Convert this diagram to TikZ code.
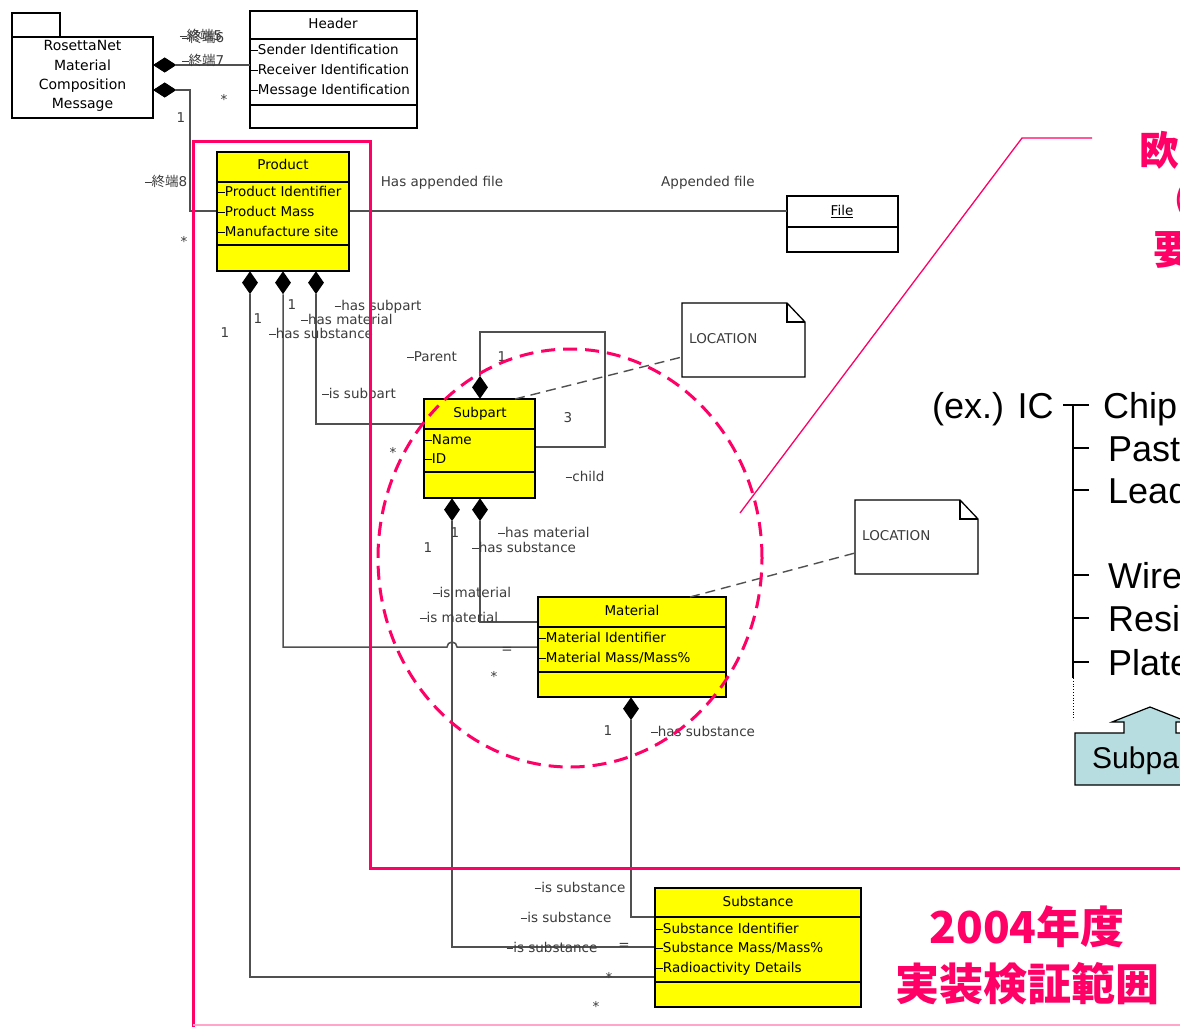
\documentclass[tikz,border=0pt]{standalone}
\usepackage{fontspec}
\usetikzlibrary{shapes.geometric}
\newfontfamily\umlf{DejaVu Sans}
\newfontfamily\arialf{Liberation Sans}
\newfontfamily\cjkf{Noto Sans CJK JP}
\definecolor{pinkc}{RGB}{255,0,102}
\definecolor{lineg}{RGB}{80,80,80}
\definecolor{labg}{RGB}{60,60,60}
\definecolor{ylw}{RGB}{255,255,0}
\definecolor{subbl}{RGB}{183,221,224}
\newcommand{\dsh}{\rule[0.32em]{0.5em}{0.6pt}}
\begin{document}
\begin{tikzpicture}[x=1pt,y=-1pt,
  cls/.style={draw=black, line width=1.4pt, fill=ylw, anchor=north west, inner sep=0pt, outer sep=0pt},
  wcls/.style={cls, fill=white},
  ut/.style={font=\umlf\fontsize{13.5}{15}\selectfont, inner sep=0pt, text height=9.8pt, text depth=0pt},
  rost/.style={ut, font=\umlf\fontsize{14}{16}\selectfont, text height=10pt},
  lab/.style={ut, text=labg},
  conn/.style={draw=lineg, line width=1.5pt},
  dconn/.style={draw=lineg, line width=1.4pt, dash pattern=on 10pt off 6pt},
  sep/.style={draw=black, line width=1.3pt},
  dia/.style={diamond, fill=black, inner sep=0pt, minimum width=16pt, minimum height=23pt, anchor=north},
  hdia/.style={diamond, fill=black, inner sep=0pt, minimum width=23pt, minimum height=15pt, anchor=west},
  pk/.style={draw=pinkc, line width=3pt},
  bigt/.style={font=\arialf\fontsize{36}{40}\selectfont, inner sep=0pt, anchor=base west},
  pkt/.style={font=\cjkf\bfseries\fontsize{44}{48}\selectfont, text=pinkc, inner sep=0pt},
  pkr/.style={font=\cjkf\bfseries\fontsize{40}{44}\selectfont, text=pinkc, inner sep=0pt, anchor=west},
  notet/.style={draw=black, line width=1.3pt},
]
\useasboundingbox (0,0) rectangle (1180,1026);
\clip (0,0) rectangle (1180,1026);
\fill[white] (0,0) rectangle (1180,1026);

% ---------- class boxes ----------
\draw[line width=1.3pt] (12,37) -- (12,13) -- (60,13) -- (60,37);
\node[wcls, minimum width=141pt, minimum height=81pt] (ros) at (12,37) {};
\node[wcls, minimum width=167pt, minimum height=117pt] (hdr) at (250,11) {};
\node[cls, minimum width=132pt, minimum height=119pt] (prod) at (217,152) {};
\node[wcls, minimum width=111pt, minimum height=56pt] (file) at (787,196) {};
\node[cls, minimum width=111pt, minimum height=99pt] (sub) at (424,399) {};
\node[cls, minimum width=188pt, minimum height=100pt] (mat) at (538,597) {};
\node[cls, minimum width=206pt, minimum height=119pt] (subs) at (655,888) {};

% ---------- diamonds ----------
\node[hdia] (rd1) at (153,65) {};
\node[hdia] (rd2) at (153,90) {};
\node[dia] (pd1) at (250,271) {};
\node[dia] (pd2) at (283,271) {};
\node[dia] (pd3) at (316,271) {};
\node[dia, anchor=south] (sd0) at (480,399) {};
\node[dia] (sd1) at (452,498) {};
\node[dia] (sd2) at (480,498) {};
\node[dia] (md) at (631,697) {};

% ---------- connectors ----------
\draw[conn] (rd1.east) -- (hdr.west |- rd1.east);
\draw[conn] (rd2.east) -- (190,90) -- (190,211) -- (prod.west |- 0,211);
\draw[conn] (prod.east |- 0,211) -- (file.west |- 0,211);
\draw[conn] (pd1.south) -- (250,977) -- (subs.west |- 0,977);
\draw[conn] (pd2.south) -- (283,647) -- (447,647) arc[start angle=180, end angle=0, radius=5pt] -- (mat.west |- 0,647);
\draw[conn] (pd3.south) -- (316,424) -- (sub.west |- 0,424);
\draw[conn] (sd0.north) -- (480,332) -- (605,332) -- (605,447) -- (sub.east |- 0,447);
\draw[conn] (sd1.south) -- (452,947) -- (subs.west |- 0,947);
\draw[conn] (sd2.south) -- (480,622) -- (mat.west |- 0,622);
\draw[conn] (md.south) -- (631,917) -- (subs.west |- 0,917);

% ---------- redraw class boxes on top ----------
\node[wcls, minimum width=141pt, minimum height=81pt] at (12,37) {};
\node[cls, minimum width=132pt, minimum height=119pt] at (217,152) {};
\node[cls, minimum width=111pt, minimum height=99pt] at (424,399) {};
\node[cls, minimum width=188pt, minimum height=100pt] at (538,597) {};
\node[cls, minimum width=206pt, minimum height=119pt] at (655,888) {};
\node[hdia] at (153,65) {};
\node[hdia] at (153,90) {};

% RosettaNet text
\node[rost] (r1) at (82.5,45) {RosettaNet};
\node[rost] (r2) at (82.5,65) {Material};
\node[rost] (r3) at (82.5,84) {Composition};
\node[rost] (r4) at (82.5,103) {Message};

% Header
\node[ut] (hdrt) at (333,24) {Header};
\draw[sep] (250,39) -- (417,39);
\draw[sep] (250,105) -- (417,105);
\node[ut, anchor=west] (h1) at (251,50) {\dsh Sender Identification};
\node[ut, anchor=west] (h2) at (251,70) {\dsh Receiver Identification};
\node[ut, anchor=west] (h3) at (251,90) {\dsh Message Identification};

% Product
\node[ut] (prodt) at (283,165) {Product};
\draw[sep] (217,182) -- (349,182);
\draw[sep] (217,245) -- (349,245);
\node[ut, anchor=west] (p1) at (218,192) {\dsh Product Identifier};
\node[ut, anchor=west] (p2) at (218,212) {\dsh Product Mass};
\node[ut, anchor=west] (p3) at (218,232) {\dsh Manufacture site};

% File
\node[ut] (filet) at (842,211) {\underline{File}};
\draw[sep] (787,227) -- (898,227);

% Subpart
\node[ut] (subt) at (480,413) {Subpart};
\draw[sep] (424,429) -- (535,429);
\draw[sep] (424,472) -- (535,472);
\node[ut, anchor=west] (s1) at (425,440) {\dsh Name};
\node[ut, anchor=west] (s2) at (425,459) {\dsh ID};

% Material
\node[ut] (matt) at (632,611) {Material};
\draw[sep] (538,627) -- (726,627);
\draw[sep] (538,672) -- (726,672);
\node[ut, anchor=west] (m1) at (539,638) {\dsh Material Identifier};
\node[ut, anchor=west] (m2) at (539,658) {\dsh Material Mass/Mass\%};

% Substance
\node[ut] (subst) at (758,902) {Substance};
\draw[sep] (655,917) -- (861,917);
\draw[sep] (655,982) -- (861,982);
\node[ut, anchor=west] (u1) at (656,929) {\dsh Substance Identifier};
\node[ut, anchor=west] (u2) at (656,948) {\dsh Substance Mass/Mass\%};
\node[ut, anchor=west] (u3) at (656,968) {\dsh Radioactivity Details};

% ---------- notes ----------
\node[minimum width=123pt, minimum height=74pt, inner sep=0pt, anchor=north west] (loc1) at (682,303) {};
\draw[notet] (682,303) -- (787,303) -- (805,322) -- (805,377) -- (682,377) -- cycle;
\draw[notet] (787,303) -- (787,322) -- (805,322);
\node[lab, anchor=west] (loc1t) at (689,339) {LOCATION};
\node[minimum width=123pt, minimum height=74pt, inner sep=0pt, anchor=north west] (loc2) at (855,500) {};
\draw[notet] (855,500) -- (960,500) -- (978,519) -- (978,574) -- (855,574) -- cycle;
\draw[notet] (960,500) -- (960,519) -- (978,519);
\node[lab, anchor=west] (loc2t) at (862,536) {LOCATION};
\draw[dconn] (sub.north -| 515,0) -- (loc1.west |- 0,357);
\draw[dconn] (mat.north -| 690,0) -- (loc2.west |- 0,553);

% ---------- labels ----------
\node[lab] (l1) at (201,36) {\dsh{\cjkf 終端}5};
\node[lab] (l2) at (203,38) {\dsh{\cjkf 終端}6};
\node[lab] (l3) at (203,61) {\dsh{\cjkf 終端}7};
\node[lab] (l4) at (166,182) {\dsh{\cjkf 終端}8};
\node[lab] (l5) at (181,118) {1};
\node[lab] (l6) at (224,100) {*};
\node[lab] (l7) at (184,242) {*};
\node[lab] (l8) at (442,182) {Has appended file};
\node[lab] (l9) at (708,182) {Appended file};
\node[lab] (l10) at (292,305) {1};
\node[lab] (l11) at (378,306) {\dsh has subpart};
\node[lab] (l12) at (258,319) {1};
\node[lab] (l13) at (347,320) {\dsh has material};
\node[lab] (l14) at (225,333) {1};
\node[lab] (l15) at (321,334) {\dsh has substance};
\node[lab] (l16) at (432,357) {\dsh Parent};
\node[lab] (l17) at (502,357) {1};
\node[lab] (l18) at (359,394) {\dsh is subpart};
\node[lab] (l19) at (393,453) {*};
\node[lab] (l20) at (568,418) {3};
\node[lab] (l21) at (585,477) {\dsh child};
\node[lab] (l22) at (455,533) {1};
\node[lab] (l23) at (428,548) {1};
\node[lab] (l24) at (544,533) {\dsh has material};
\node[lab] (l25) at (524,548) {\dsh has substance};
\node[lab] (l26) at (472,593) {\dsh is material};
\node[lab] (l27) at (459,618) {\dsh is material};
\node[lab] (l28) at (507,649) {=};
\node[lab] (l29) at (494,677) {*};
\node[lab] (l30) at (608,731) {1};
\node[lab] (l31) at (703,732) {\dsh has substance};
\node[lab] (l32) at (580,888) {\dsh is substance};
\node[lab] (l33) at (566,918) {\dsh is substance};
\node[lab] (l34) at (552,948) {\dsh is substance};
\node[lab] (l35) at (624,945) {=};
\node[lab] (l36) at (609,978) {*};
\node[lab] (l37) at (596,1007) {*};

% ---------- pink highlight ----------
\draw[pk] (193,1030) -- (193,141) -- (370,141) -- (370,868) -- (1185,868);
\draw[pinkc!35, line width=1.5pt] (193,1025) -- (1185,1025);
\draw[pinkc, line width=3pt, dash pattern=on 14pt off 8pt] (570,558) ellipse[x radius=192pt, y radius=209pt];
\coordinate (cl1) at (740,513);
\coordinate (cl2) at (1022,138);
\coordinate (cl3) at (1092,138);
\draw[pinkc, line width=1.3pt] (cl1) -- (cl2) -- (cl3);
\node[pkr] (ro1) at (1139,150) {欧};
\node[pkr, font=\cjkf\fontsize{40}{44}\selectfont] (ro2) at (1149,200) {（};
\node[pkr] (ro3) at (1153,250) {要};
\node[pkt] (y1) at (1027,927) {2004年度};
\node[pkt] (y2) at (1027,984) {実装検証範囲};

% ---------- IC example tree ----------
\node[bigt] (ex) at (932,418) {(ex.) IC};
\coordinate (tj) at (1073,405);
\draw[line width=1.2pt] (1063,405) -- (1089,405);
\draw[line width=1.2pt] (tj) -- (1073,678);
\draw[line width=0.8pt, dotted] (1073,678) -- (1073,720);
\foreach \yy in {448,490,575,618,662} \draw[line width=1.2pt] (1073,\yy) -- (1089,\yy);
\node[bigt] (t1) at (1103,418) {Chip};
\node[bigt] (t2) at (1108,461) {Paste};
\node[bigt] (t3) at (1108,503) {Lead};
\node[bigt] (t4) at (1108,588) {Wire};
\node[bigt] (t5) at (1108,631) {Resin};
\node[bigt] (t6) at (1108,675) {Plate};
\draw[line width=1.2pt, fill=subbl] (1075,785) -- (1075,733) -- (1124,733) -- (1124,722) -- (1112,722) -- (1150,707) -- (1188,722) -- (1176,722) -- (1176,733) -- (1190,733) -- (1190,785) -- cycle;
\node[bigt, font=\arialf\fontsize{30}{34}\selectfont] (sbp) at (1092,768) {Subpart};
\end{tikzpicture}
\end{document}
